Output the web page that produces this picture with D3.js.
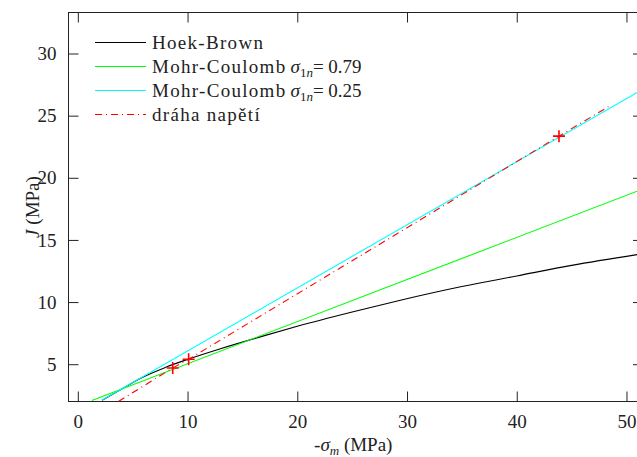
<!DOCTYPE html>
<html>
<head>
<meta charset="utf-8">
<script src="https://cdn.jsdelivr.net/npm/d3@7"></script>
<style>
  body { margin: 0; background: #fff; }
</style>
</head>
<body>
<svg width="637" height="457"></svg>
<script>
var svg = d3.select("svg");

// data: [ -sigma_m (MPa), J (MPa) ]
var hoekBrown = [[2.2, 2.1], [4, 3.0], [5.67, 3.85], [8, 4.75], [10.24, 5.46], [13, 6.25],
  [16.62, 7.2], [20, 8.05], [25, 9.2], [29.4, 10.15], [35, 11.25], [40, 12.1], [45, 12.95], [51.2, 13.85]];
var mc079 = [[1.28, 2.08], [51.2, 19.0]];
var mc025 = [[2.19, 2.1], [51.2, 26.98]];
var stressPath = [[3.7, 2.0], [8.65, 4.7], [10.1, 5.4], [43.85, 23.35], [48.5, 25.8]];
var stressPoints = [[8.65, 4.7], [10.1, 5.4], [43.85, 23.35]];

var xTicks = [0, 10, 20, 30, 40, 50];
var yTicks = [5, 10, 15, 20, 25, 30];

var pLeft = 68.5, pRight = 638, pTop = 12.5, pBottom = 401.5;
var serif = "Liberation Serif";

var x = d3.scaleLinear().domain([-0.85, 51.05]).range([pLeft, pRight]);
var y = d3.scaleLinear().domain([2.0, 33.3]).range([pBottom, pTop]);

svg.append("clipPath").attr("id", "plot")
  .append("rect")
  .attr("x", pLeft).attr("y", pTop)
  .attr("width", pRight - pLeft).attr("height", pBottom - pTop);

// axes, ticks pointing inside
function styleAxis(g) {
  g.attr("font-family", serif).attr("font-size", 19);
  g.select(".domain").remove();
  g.selectAll(".tick line").attr("stroke", "#222");
  g.selectAll(".tick text").attr("fill", "#222");
}

svg.append("g")
  .attr("transform", "translate(0," + pBottom + ")")
  .call(d3.axisBottom(x).tickValues(xTicks).tickSize(-10).tickPadding(13))
  .call(styleAxis);

svg.append("g")
  .attr("transform", "translate(0," + pTop + ")")
  .call(d3.axisTop(x).tickValues(xTicks).tickSize(-10).tickFormat(""))
  .call(styleAxis);

svg.append("g")
  .attr("transform", "translate(" + pLeft + ",0)")
  .call(d3.axisLeft(y).tickValues(yTicks).tickSize(-10).tickPadding(12))
  .call(styleAxis);

svg.append("g")
  .attr("transform", "translate(" + pRight + ",0)")
  .call(d3.axisRight(y).tickValues(yTicks).tickSize(-5).tickFormat(""))
  .call(styleAxis);

svg.append("rect")
  .attr("x", pLeft).attr("y", pTop)
  .attr("width", pRight - pLeft).attr("height", pBottom - pTop)
  .attr("fill", "none").attr("stroke", "#222");

// curves
var line = d3.line()
  .x(function(d) { return x(d[0]); })
  .y(function(d) { return y(d[1]); });

var curves = svg.append("g").attr("clip-path", "url(#plot)");

curves.append("path").datum(hoekBrown)
  .attr("d", line.curve(d3.curveMonotoneX))
  .attr("fill", "none").attr("stroke", "#000").attr("stroke-width", 1.1);

line.curve(d3.curveLinear);

curves.append("path").datum(mc079)
  .attr("d", line)
  .attr("fill", "none").attr("stroke", "#00ff00").attr("stroke-width", 1.1);

curves.append("path").datum(mc025)
  .attr("d", line)
  .attr("fill", "none").attr("stroke", "#00ffff").attr("stroke-width", 1.1);

curves.append("path").datum(stressPath)
  .attr("d", line)
  .attr("fill", "none").attr("stroke", "#ff0000").attr("stroke-width", 1.1)
  .attr("stroke-dasharray", "7,4,1,4");

curves.selectAll(".mark")
  .data(stressPoints)
  .enter().append("path")
  .attr("class", "mark")
  .attr("d", function(d) {
    var cx = x(d[0]), cy = y(d[1]);
    return "M" + (cx - 6) + "," + cy + "H" + (cx + 6) + "M" + cx + "," + (cy - 6) + "V" + (cy + 6);
  })
  .attr("stroke", "#ff0000").attr("stroke-width", 1.6);

// legend
var legendItems = [
  { label: "Hoek-Brown", color: "#000", dash: null },
  { label: "Mohr-Coulomb", sub: "1n", value: "0.79", color: "#00ff00", dash: null },
  { label: "Mohr-Coulomb", sub: "1n", value: "0.25", color: "#00ffff", dash: null },
  { label: "dráha napětí", color: "#ff0000", dash: "7,4,1,4" }
];

var legend = svg.append("g")
  .selectAll("g")
  .data(legendItems)
  .enter().append("g")
  .attr("transform", function(d, i) { return "translate(0," + (42.5 + i * 24) + ")"; });

legend.append("line")
  .attr("x1", 95).attr("x2", 146)
  .attr("stroke", function(d) { return d.color; })
  .attr("stroke-width", 1.1)
  .attr("stroke-dasharray", function(d) { return d.dash; });

var lt = legend.append("text")
  .attr("x", 152).attr("y", 6)
  .attr("font-family", serif).attr("fill", "#222")
  .attr("font-size", 19);

lt.append("tspan").attr("letter-spacing", 1.3).text(function(d) { return d.label; });
lt.filter(function(d) { return d.sub; }).each(function(d) {
  var t = d3.select(this);
  t.append("tspan").attr("font-style", "italic").attr("dx", 4).text("σ");
  t.append("tspan").attr("font-size", 13).attr("dy", 4).text("1").append("tspan").attr("font-style", "italic").text("n");
  t.append("tspan").attr("dy", -4).text("= " + d.value);
});

// axis titles
var xt = svg.append("text")
  .attr("x", (pLeft + pRight) / 2).attr("y", 451)
  .attr("font-family", serif).attr("fill", "#222")
  .attr("text-anchor", "middle").attr("font-size", 19);
xt.append("tspan").text("-");
xt.append("tspan").attr("font-style", "italic").text("σ");
xt.append("tspan").attr("font-size", 13).attr("dy", 4).attr("font-style", "italic").text("m");
xt.append("tspan").attr("dy", -4).text(" (MPa)");

var yt = svg.append("text")
  .attr("transform", "translate(39," + ((pTop + pBottom) / 2) + ") rotate(-90)")
  .attr("font-family", serif).attr("fill", "#222")
  .attr("text-anchor", "middle").attr("font-size", 19);
yt.append("tspan").attr("font-style", "italic").text("J");
yt.append("tspan").text(" (MPa)");
</script>
</body>
</html>
